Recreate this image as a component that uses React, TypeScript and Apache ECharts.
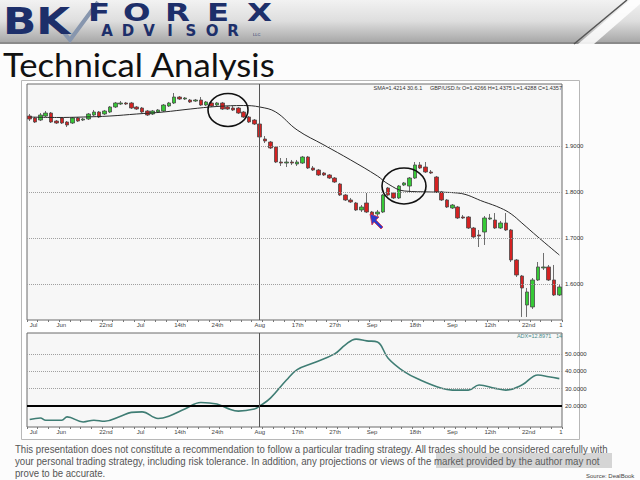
import React, { useEffect, useRef } from 'react';
import * as echarts from 'echarts';

const tickLabels = ['Jul', 'Jun', '22nd', 'Jul', '14th', '24th', 'Aug', '17th', '27th', 'Sep', '18th', 'Sep', '12th', '22nd', '1'];
const tickIndex = [0, 5, 13, 20, 27, 34, 42, 49, 56, 63, 71, 78, 85, 92, 99];

// [open, close, low, high]
const candles = [
  [1.9652, 1.9587, 1.9543, 1.9696], [1.9609, 1.9522, 1.95, 1.963], [1.9565, 1.9674, 1.9543, 1.9717], [1.9652, 1.9717, 1.963, 1.9761],
  [1.9717, 1.9522, 1.95, 1.9739], [1.9543, 1.95, 1.9478, 1.9565], [1.9609, 1.95, 1.9478, 1.963], [1.9522, 1.9457, 1.9413, 1.9543],
  [1.95, 1.9609, 1.9478, 1.963], [1.9609, 1.9543, 1.9522, 1.963], [1.9565, 1.9587, 1.9543, 1.9609], [1.9587, 1.9696, 1.9565, 1.9717],
  [1.9674, 1.9739, 1.9652, 1.9783], [1.9739, 1.963, 1.9609, 1.9761], [1.9696, 1.9761, 1.9674, 1.9783], [1.9739, 1.9848, 1.9717, 1.987],
  [1.9848, 1.9935, 1.9826, 1.9957], [1.9913, 1.9935, 1.9891, 1.9978], [1.9935, 1.9913, 1.9891, 1.9957], [1.9935, 1.9826, 1.9804, 1.9957],
  [1.9848, 1.9804, 1.9783, 1.987], [1.9826, 1.9739, 1.9717, 1.9848], [1.9761, 1.9674, 1.9652, 1.9783], [1.9696, 1.9761, 1.9674, 1.9783],
  [1.9739, 1.9783, 1.9717, 1.9804], [1.9761, 1.9891, 1.9739, 1.9913], [1.987, 1.9935, 1.9848, 1.9957], [1.9935, 2.0065, 1.9913, 2.0152],
  [2.0065, 2.0022, 2.0, 2.0087], [2.0022, 2.0043, 2.0, 2.0065], [2.0, 1.9957, 1.9935, 2.0022], [1.9978, 2.0, 1.9957, 2.0022],
  [2.0, 1.9891, 1.987, 2.0065], [1.9891, 1.9957, 1.987, 1.9978], [1.9935, 1.987, 1.9848, 1.9957], [1.9891, 1.9935, 1.987, 1.9957],
  [1.9935, 1.9804, 1.9783, 1.9957], [1.9848, 1.9804, 1.9783, 1.987], [1.9826, 1.9783, 1.9761, 1.987], [1.9826, 1.9717, 1.9696, 1.9848],
  [1.9739, 1.963, 1.9609, 1.9761], [1.963, 1.9522, 1.95, 1.9652], [1.9565, 1.9478, 1.9457, 1.9587], [1.9478, 1.9196, 1.9174, 1.95],
  [1.9152, 1.9109, 1.9065, 1.9217], [1.9087, 1.8957, 1.8935, 1.9109], [1.8978, 1.8652, 1.863, 1.9], [1.8652, 1.863, 1.8565, 1.8739],
  [1.863, 1.8652, 1.8543, 1.8739], [1.8652, 1.863, 1.8587, 1.8696], [1.8609, 1.8652, 1.8565, 1.8696], [1.863, 1.8761, 1.8609, 1.8783],
  [1.8761, 1.8522, 1.85, 1.8783], [1.8522, 1.8478, 1.8457, 1.8565], [1.8478, 1.837, 1.8348, 1.85], [1.8413, 1.837, 1.8348, 1.8435],
  [1.837, 1.8304, 1.8283, 1.8391], [1.8304, 1.8217, 1.8196, 1.8326], [1.8174, 1.7935, 1.7913, 1.8196], [1.7935, 1.7826, 1.7804, 1.7957],
  [1.7826, 1.7783, 1.7761, 1.787], [1.7761, 1.7609, 1.7587, 1.7783], [1.7609, 1.7674, 1.7565, 1.7717], [1.7761, 1.7565, 1.7543, 1.7978],
  [1.7565, 1.75, 1.7478, 1.7587], [1.7522, 1.7565, 1.7478, 1.7609], [1.7565, 1.7935, 1.7543, 1.7957], [1.8087, 1.7935, 1.7913, 1.8109],
  [1.7978, 1.787, 1.7848, 1.8], [1.787, 1.813, 1.7848, 1.8152], [1.8152, 1.8196, 1.813, 1.8217], [1.813, 1.8304, 1.7978, 1.8326],
  [1.8304, 1.8587, 1.8283, 1.8652], [1.8587, 1.8522, 1.85, 1.8652], [1.8543, 1.8435, 1.8413, 1.8652], [1.8435, 1.8413, 1.8391, 1.8478],
  [1.8326, 1.8, 1.7978, 1.8348], [1.8, 1.7826, 1.7804, 1.8022], [1.7826, 1.7674, 1.7652, 1.7848], [1.7652, 1.7717, 1.763, 1.7739],
  [1.7674, 1.7435, 1.7413, 1.7696], [1.7457, 1.7435, 1.7413, 1.75], [1.7457, 1.7217, 1.7196, 1.7478], [1.7217, 1.7022, 1.7, 1.7239],
  [1.7065, 1.7043, 1.6804, 1.7174], [1.713, 1.7435, 1.6848, 1.7478], [1.7413, 1.7435, 1.7391, 1.7522], [1.7391, 1.7217, 1.7196, 1.7543],
  [1.7217, 1.7326, 1.7196, 1.737], [1.7326, 1.7174, 1.7152, 1.7543], [1.7174, 1.6522, 1.6478, 1.7196], [1.6522, 1.6196, 1.6152, 1.6543],
  [1.6174, 1.5913, 1.5283, 1.6196], [1.5543, 1.5826, 1.5283, 1.5913], [1.55, 1.6087, 1.5457, 1.613], [1.6087, 1.637, 1.6065, 1.6478],
  [1.6348, 1.637, 1.6304, 1.6674], [1.637, 1.6087, 1.6065, 1.6413], [1.6087, 1.5761, 1.5739, 1.6413], [1.5761, 1.5935, 1.5739, 1.5978],
];

// [bar index, value]
const smaPoints = [
  [0, 1.963], [5, 1.962], [10, 1.963], [15, 1.9652], [20, 1.9696], [25, 1.9739], [30, 1.9804], [35, 1.9859],
  [40, 1.988], [43, 1.9848], [46, 1.9739], [50, 1.9348], [55, 1.9022], [60, 1.8696], [65, 1.8348], [67, 1.8174],
  [70, 1.8022], [75, 1.8], [80, 1.7978], [85, 1.7783], [88, 1.7652], [90, 1.7522], [92, 1.7326], [95, 1.7022], [99, 1.663],
];

const adxPoints = [
  [0, 12.3], [2, 13.2], [3, 11.9], [6, 11.9], [7, 13.8], [10, 10.9], [12, 11.9], [14, 11.3], [17, 14.2], [19, 16.4],
  [21, 16.7], [24, 12.9], [26, 14.2], [29, 18.3], [32, 22.1], [35, 21.2], [37, 18.7], [39, 17.1], [42, 18.3], [43, 20],
  [45, 24.6], [48, 35.0], [50, 41.0], [53, 44.8], [57, 50.0], [59, 55.2], [61, 58.5], [63, 57.5], [65, 56.8], [67, 47.5],
  [70, 39.8], [73, 35.0], [77, 30.2], [79, 29.2], [82, 29.2], [84, 32.1], [87, 30.2], [89, 29.2], [92, 32.1], [95, 37.9],
  [97, 36.9], [99, 35.8],
];

const priceLevels = [1.9, 1.8, 1.7, 1.6];
const adxGridLevels = [50, 40, 30];
const adxKeyLevel = 20;
const adxLabelOnly = [10];
const markerIndex = 43;

const headerText = 'SMA=1.4214 30.6.1     GBP/USD.fx O=1.4266 H=1.4375 L=1.4288 C=1.4357';
const adxText = 'ADX=12.8971   14';
const disclaimer1 = 'This presentation does not constitute a recommendation to follow a particular trading strategy. All trades should be considered carefully with';
const disclaimer2 = 'your personal trading strategy, including risk tolerance. In addition, any projections or views of the market provided by the author may not';
const disclaimer3 = 'prove to be accurate.';

function measure(text: string, font: string): number {
  const c = document.createElement('canvas').getContext('2d');
  if (!c) return 1;
  c.font = font;
  return c.measureText(text).width || 1;
}

export default function App() {
  const ref = useRef<HTMLDivElement>(null);
  useEffect(() => {
    document.body.style.margin = '0';
    if (!ref.current) return;
    const chart = echarts.init(ref.current, null, { renderer: 'svg' });
    const categories = candles.map((_, i) => String(i));
    const labelFor = (i: number) => {
      const k = tickIndex.indexOf(i);
      return k >= 0 ? tickLabels[k] : '';
    };
    const xAxis = (gridIndex: number) => ({
      type: 'category',
      gridIndex,
      data: categories,
      boundaryGap: true,
      axisLine: { show: false },
      axisTick: { show: true, interval: 1, length: 2, lineStyle: { color: '#777' } },
      axisLabel: {
        interval: (i: number) => tickIndex.includes(i),
        formatter: (v: string) => labelFor(Number(v)),
        fontSize: 6,
        color: '#444',
        align: 'left',
        margin: 2,
        hideOverlap: false,
        fontFamily: 'Liberation Sans',
      },
      splitLine: { show: false },
    });

    const lvlLabel = { show: true, position: 'end', fontSize: 6, color: '#333', distance: 3, fontFamily: 'Liberation Sans', formatter: (p: any) => Number(p.value).toFixed(4) };

    const titleFont = '32px Lato';
    const titleScale = 273 / measure('Technical Analysis', titleFont);
    const discFont = '10px "Liberation Sans"';
    const d1Scale = 594 / measure(disclaimer1, discFont);
    const d2Scale = 585 / measure(disclaimer2, discFont);

    const foreX = [88, 123, 165, 207, 247];
    const advisor = 'ADVISOR'.split('');
    const navy = '#1d2f6a';

    const graphics: any[] = [
      { type: 'rect', z: -20, shape: { x: 0, y: 0, width: 640, height: 480 }, style: { fill: '#fcfcfc' } },
      {
        type: 'rect', z: -19, shape: { x: 0, y: 0, width: 640, height: 42 },
        style: { fill: new echarts.graphic.LinearGradient(0, 0, 0, 1, [{ offset: 0, color: '#f2f2f2' }, { offset: 0.5, color: '#dedede' }, { offset: 1, color: '#a8a8a8' }]) },
      },
      { type: 'rect', z: -18, shape: { x: 0, y: 42, width: 640, height: 2 }, style: { fill: '#8a8a8a' } },
      { type: 'polygon', z: -17, shape: { points: [[578, 44], [630, 0], [640, 0], [640, 4], [594, 44]] }, style: { fill: '#ffffff', opacity: 0.85 } },
      { type: 'line', z: -17, shape: { x1: 574, y1: 44, x2: 627, y2: 0 }, style: { stroke: '#555', lineWidth: 1.5 } },
      { type: 'polyline', z: -16, shape: { points: [[55, 22], [70, 40], [98, 2]] }, style: { stroke: '#8796ae', lineWidth: 4, fill: null } },
      { type: 'text', z: -15, x: 3, y: 2, scaleX: 1.15, style: { text: 'BK', fontSize: 38, lineHeight: 38, fontWeight: 900, fontFamily: 'DejaVu Sans', fill: navy } },
      ...foreX.map((x, k) => ({ type: 'text', z: -15, x, y: 1, scaleX: 1.35, style: { text: 'FOREX'[k], fontSize: 24, lineHeight: 24, fontWeight: 900, fontFamily: 'DejaVu Sans', fill: navy } })),
      ...advisor.map((ch, k) => ({ type: 'text', z: -15, x: 107 + k * 21, y: 23, style: { text: ch, fontSize: 15, lineHeight: 15, fontWeight: 900, fontFamily: 'DejaVu Sans', fill: navy, align: 'center' } })),
      { type: 'text', z: -15, x: 253, y: 32, style: { text: 'LLC', fontSize: 4, fontFamily: 'Liberation Sans', fill: navy } },
      { type: 'text', z: -15, x: 3, y: 49, scaleX: titleScale, style: { text: 'Technical Analysis', fontSize: 32, fontFamily: 'Lato', fill: '#111' } },
      { type: 'rect', z: -10, shape: { x: 21.5, y: 80.5, width: 558, height: 359 }, style: { fill: '#ffffff', stroke: '#b8b8b8', lineWidth: 1 } },
      { type: 'text', z: 50, x: 562, y: 88, style: { text: headerText, fontSize: 5.5, fontFamily: 'Liberation Sans', fill: '#333', align: 'right', verticalAlign: 'middle' } },
      { type: 'text', z: 50, x: 562, y: 336, style: { text: adxText, fontSize: 5.5, fontFamily: 'Liberation Sans', fill: '#4a8a8a', align: 'right', verticalAlign: 'middle' } },
      { type: 'ellipse', z: 100, shape: { cx: 228, cy: 110, rx: 20, ry: 16.5 }, style: { fill: null, stroke: '#111', lineWidth: 1.6 } },
      { type: 'ellipse', z: 100, shape: { cx: 404, cy: 186, rx: 22, ry: 18 }, style: { fill: null, stroke: '#111', lineWidth: 1.6 } },
      { type: 'polygon', z: 100, shape: { points: [[370, 214], [379, 217], [376, 220], [383, 227], [381, 229], [374, 222], [372, 225]] }, style: { fill: '#2a3bcc', stroke: '#d8304a', lineWidth: 0.8 } },
      { type: 'text', z: 10, x: 15, y: 449, scaleX: d1Scale, style: { text: disclaimer1, fontSize: 10, fontFamily: 'Liberation Sans', fill: '#555', verticalAlign: 'middle' } },
      { type: 'text', z: 10, x: 15, y: 461, scaleX: d2Scale, style: { text: disclaimer2, fontSize: 10, fontFamily: 'Liberation Sans', fill: '#555', verticalAlign: 'middle' } },
      { type: 'text', z: 10, x: 15, y: 473, scaleX: d1Scale, style: { text: disclaimer3, fontSize: 10, fontFamily: 'Liberation Sans', fill: '#555', verticalAlign: 'middle' } },
      { type: 'rect', z: 11, shape: { x: 436, y: 453, width: 176, height: 15 }, style: { fill: 'rgba(110,110,110,0.28)' } },
      { type: 'text', z: 10, x: 586, y: 476, style: { text: 'Source: DealBook', fontSize: 6, fontFamily: 'Liberation Sans', fill: '#444', verticalAlign: 'middle' } },
    ];

    chart.setOption({
      animation: false,
      backgroundColor: '#fcfcfc',
      textStyle: { fontFamily: 'Liberation Sans' },
      grid: [
        { left: 27, top: 84, width: 535, height: 236, show: true, backgroundColor: '#f7f7f7', borderColor: '#6a6a6a', borderWidth: 1 },
        { left: 27, top: 333, width: 535, height: 94, show: true, backgroundColor: '#f7f7f7', borderColor: '#6a6a6a', borderWidth: 1 },
      ],
      xAxis: [xAxis(0), xAxis(1)],
      yAxis: [
        { type: 'value', gridIndex: 0, min: 1.5217, max: 2.0348, show: false },
        { type: 'value', gridIndex: 1, min: 8, max: 62, show: false },
      ],
      graphic: graphics,
      series: [
        {
          type: 'candlestick',
          xAxisIndex: 0,
          yAxisIndex: 0,
          data: candles,
          barWidth: 4,
          itemStyle: { color: '#36c936', color0: '#d42222', borderColor: '#4a4a4a', borderColor0: '#4a4a4a', borderWidth: 0.8 },
          markLine: {
            silent: true,
            symbol: ['none', 'none'],
            label: lvlLabel,
            lineStyle: { type: 'dotted', color: '#a0a0a0', width: 1 },
            data: [
              ...priceLevels.map((v) => ({ yAxis: v })),
              { xAxis: markerIndex, lineStyle: { type: 'solid', color: '#555', width: 1 }, label: { show: false } },
            ],
          },
        },
        {
          type: 'line',
          xAxisIndex: 0,
          yAxisIndex: 0,
          data: smaPoints,
          smooth: 0.4,
          symbol: 'none',
          z: 3,
          lineStyle: { color: '#2a2a2a', width: 1 },
        },
        {
          type: 'line',
          xAxisIndex: 1,
          yAxisIndex: 1,
          data: adxPoints,
          smooth: 0.4,
          symbol: 'none',
          z: 4,
          lineStyle: { color: '#3f7d74', width: 1.6 },
          markLine: {
            silent: true,
            symbol: ['none', 'none'],
            label: lvlLabel,
            lineStyle: { type: 'dotted', color: '#a0a0a0', width: 1 },
            data: [
              ...adxGridLevels.map((v) => ({ yAxis: v })),
              { yAxis: adxKeyLevel, lineStyle: { type: 'solid', color: '#000', width: 2 } },
              ...adxLabelOnly.map((v) => ({ yAxis: v, lineStyle: { opacity: 0 } })),
              { xAxis: markerIndex, lineStyle: { type: 'solid', color: '#555', width: 1 }, label: { show: false } },
            ],
          },
        },
      ],
    });
    return () => chart.dispose();
  }, []);
  return <div ref={ref} style={{ width: 640, height: 480 }} />;
}
